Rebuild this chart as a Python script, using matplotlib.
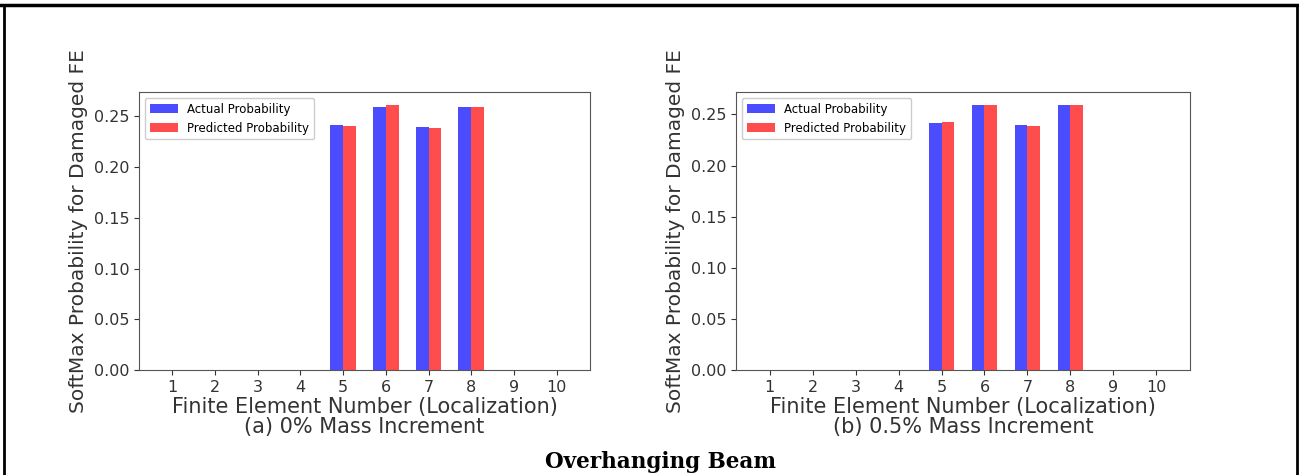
import matplotlib
matplotlib.use("Agg")
import matplotlib.pyplot as plt
import numpy as np
from matplotlib.lines import Line2D

elements = [1, 2, 3, 4, 5, 6, 7, 8, 9, 10]
actual_a = [0, 0, 0, 0, 0.242, 0.259, 0.240, 0.259, 0, 0]
pred_a = [0, 0, 0, 0, 0.241, 0.261, 0.239, 0.259, 0, 0]
actual_b = [0, 0, 0, 0, 0.242, 0.259, 0.240, 0.259, 0, 0]
pred_b = [0, 0, 0, 0, 0.243, 0.259, 0.239, 0.259, 0, 0]
subtitles = ["(a) 0% Mass Increment", "(b) 0.5% Mass Increment"]
xlabel = "Finite Element Number (Localization)"
ylabel = "SoftMax Probability for Damaged FE"
main_title = "Overhanging Beam"

W, H = 1299, 475
fig = plt.figure(figsize=(W / 100, H / 100), dpi=100)

axes_px = [(139, 590), (736, 1190)]
top_px, bot_px = 92, 370
width = 0.3
x = np.array(elements)

for (l, r), act, pred, sub in zip(axes_px, [actual_a, actual_b], [pred_a, pred_b], subtitles):
    ax = fig.add_axes([l / W, (H - bot_px) / H, (r - l) / W, (bot_px - top_px) / H])
    ax.bar(x - width / 2, act, width, color="blue", alpha=0.7, label="Actual Probability")
    ax.bar(x + width / 2, pred, width, color="red", alpha=0.7, label="Predicted Probability")
    ax.set_xticks(elements)
    ax.set_yticks([0.0, 0.05, 0.10, 0.15, 0.20, 0.25])
    ax.tick_params(labelsize=11.5, colors="#333333")
    for s in ax.spines.values():
        s.set_color("#555555")
    ax.set_xlabel(xlabel + "\n" + sub, fontsize=15, color="#333333", labelpad=2, linespacing=0.95)
    ax.set_ylabel(ylabel, fontsize=14.5, color="#333333", labelpad=4)
    ax.legend(loc="upper left", fontsize=8.5, handlelength=2.4, framealpha=1.0)

fig.text(660 / W, 1 - 462 / H, main_title, ha="center", va="center",
         fontsize=15.5, fontweight="bold", family="DejaVu Serif")

# document frame lines
fig.add_artist(Line2D([0, 1], [1 - 5 / H, 1 - 5 / H], transform=fig.transFigure, color="black", lw=2.5))
fig.add_artist(Line2D([4 / W, 4 / W], [0, 1 - 5 / H], transform=fig.transFigure, color="black", lw=2))
fig.add_artist(Line2D([1297 / W, 1297 / W], [0, 1 - 5 / H], transform=fig.transFigure, color="black", lw=2))

fig.savefig("out.png", dpi=100)
